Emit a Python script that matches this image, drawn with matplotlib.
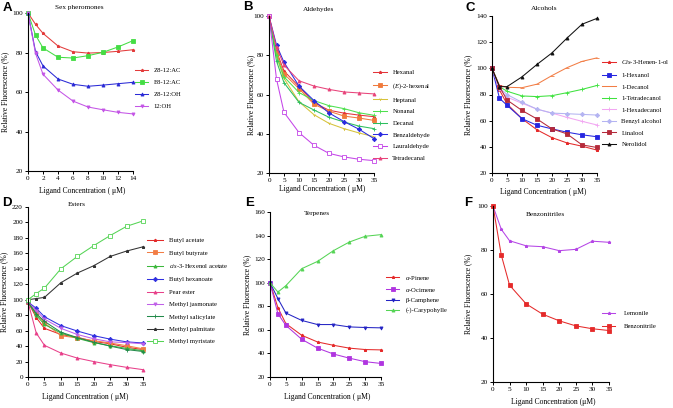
import matplotlib
matplotlib.use("Agg")
import matplotlib.pyplot as plt
from matplotlib.patches import Rectangle

plt.rcParams['font.family'] = ['Liberation Serif', 'DejaVu Serif']
plt.rcParams['mathtext.fontset'] = 'custom'
plt.rcParams['mathtext.rm'] = 'Liberation Serif'
plt.rcParams['mathtext.it'] = 'Liberation Serif:italic'

W, H = 673, 408

# ---- data ----
x_sex = [0, 1, 2, 4, 6, 8, 10, 12, 14]
conc = [0, 2.5, 5, 10, 15, 20, 25, 30, 35]

z8_12_ac = [100, 94.3, 89.7, 83.3, 80.4, 79.7, 80.0, 80.6, 81.4]
e8_12_ac = [100, 88.9, 82.3, 77.6, 77.2, 78.4, 80.1, 82.8, 86.0]
z8_12_oh = [100, 80.5, 73.2, 66.6, 63.9, 62.9, 63.5, 64.2, 64.9]
oh_12 = [100, 79.6, 69.0, 61.0, 55.4, 52.4, 51.0, 49.7, 48.9]

hexanal = [100, 82, 72, 64, 55.8, 52, 50.5, 49.5, 48.7]
hexenal = [100, 81, 70.5, 63, 55, 51.5, 49, 48, 46.8]
heptanal = [100, 79.3, 68.2, 56.3, 49.7, 45.3, 42.6, 40.4, 38.5]
nonanal = [100, 80, 69, 61, 56.9, 54.3, 52.8, 50.7, 49.4]
decanal = [100, 77, 66, 56, 52.1, 48.4, 46, 43.9, 42.6]
benzaldehyde = [100, 85.2, 76.4, 64.3, 56.9, 50.6, 46.2, 42.3, 37.5]
lauraldehyde = [100, 67.9, 50.9, 40.6, 34.1, 30, 28.2, 27, 26.3]
tetradecanal = [100, 84, 75, 67, 64.3, 62.6, 61.3, 60.8, 60.3]

cis3_hexen_ol = [100, 83.4, 72.8, 61.5, 53, 47, 43, 40.5, 37.5]
hexanol = [100, 77.1, 71.8, 61.5, 56.5, 53.7, 51.2, 49.2, 47.7]
decanol = [100, 87, 85.5, 85.2, 87.9, 94.5, 100.5, 105.3, 108]
tetradecanol = [100, 86, 82.5, 78.9, 78.4, 79.1, 81.4, 83.9, 86.9]
hexadecanol = [100, 84, 78, 73.3, 68.8, 65.8, 62.5, 59.5, 56.7]
benzyl_alcohol = [100, 85, 80, 74, 68.8, 65.8, 65.3, 64.8, 64.3]
linalool = [100, 86, 75.8, 67.8, 61.3, 53.7, 49.9, 41.5, 39.5]
nerolidol = [100, 86, 86, 93.5, 103, 111.8, 123.1, 133.7, 138.2]

butyl_acetate = [97, 77, 63, 55, 51.5, 46, 43, 38.5, 35.5]
butyl_butyrate = [97, 83, 70, 53.5, 50.5, 47, 44, 40.5, 36.5]
hexenyl_acetate = [97, 80, 68, 57, 50, 44.5, 40.5, 37, 34]
butyl_hexanoate = [97, 89, 78, 66.5, 59.5, 53.5, 49, 45.5, 44]
pear_ester = [97, 57, 41, 31, 24.5, 20, 16, 12.5, 9.5]
methyl_jasmonate = [97, 86, 75, 63, 55, 49.5, 45.5, 44.5, 43]
methyl_salicylate = [97, 82, 72, 58, 51, 45, 40, 35.5, 33]
methyl_palmitate = [100, 101.5, 103, 122, 134.5, 144, 156, 163, 168.5]
methyl_myristate = [100, 108, 115, 140, 156, 170, 183, 195, 202]

pinene = [100, 78.8, 65.3, 55.4, 49.7, 46.9, 44.5, 43.3, 43]
ocimene = [100, 73.7, 63.8, 52, 44.5, 39.5, 36, 33, 31.5]
camphene = [100, 86.5, 74.3, 68, 64.5, 64.5, 62.5, 62, 61.7]
caryophyllene = [100, 92.1, 97.5, 111.9, 118.1, 127.2, 134.5, 139.4, 140.8]

lemonile = [100, 89.4, 84.2, 81.9, 81.5, 79.7, 80.3, 84, 83.5]
benzonitrile = [100, 77.7, 64, 55.5, 50.8, 47.8, 45.5, 44.2, 43.4]

FS = 5.2     # ticks, titles
LFS = 4.8    # legend entries


def px_axes(fig, left, top, right, bottom):
    """Add axes given pixel box (top-left origin)."""
    return fig.add_axes([left / W, 1 - bottom / H, (right - left) / W, (bottom - top) / H])


def fig_text(fig, x, y, s, **kw):
    fig.text(x / W, 1 - y / H, s, **kw)


def draw_panel(fig, box, x, series, xticks, yticks, legend_at, spacing, hlen=2.1, hpad=0.8):
    """Draw one panel: box is pixel box of the axes, series is list of
    (values, label, color, marker, filled)."""
    ax = px_axes(fig, *box)
    for vals, label, color, marker, filled in series:
        ax.plot(x, vals, color=color, lw=0.75, marker=marker, ms=2.2,
                mfc=color if filled else 'white', mec=color, mew=0.6,
                label=label, clip_on=False)
    ax.set_xlim(xticks[0], xticks[-1])
    ax.set_ylim(yticks[0], yticks[-1])
    ax.set_xticks(xticks)
    ax.set_yticks(yticks)
    for s in ['top', 'right']:
        ax.spines[s].set_visible(False)
    for s in ['left', 'bottom']:
        ax.spines[s].set_linewidth(0.8)
    ax.tick_params(direction='out', length=2.5, width=0.7, labelsize=FS, pad=1.2)
    ax.patch.set_alpha(0)
    lx, ly = legend_at
    ax.legend(loc='upper left', bbox_to_anchor=(lx / W, 1 - ly / H),
              bbox_transform=fig.transFigure, frameon=False, fontsize=LFS,
              handlelength=hlen, handletextpad=hpad, labelspacing=spacing,
              borderpad=0, borderaxespad=0, numpoints=1)
    return ax


fig = plt.figure(figsize=(W / 100, H / 100), dpi=100)

# A - sex pheromones
draw_panel(fig, (28, 13, 133, 171), x_sex, [
    (z8_12_ac, 'Z8-12:AC', '#e33b3b', '*', True),
    (e8_12_ac, 'E8-12:AC', '#44dd44', 's', True),
    (z8_12_oh, 'Z8-12:OH', '#2a2ad6', '^', True),
    (oh_12, '12:OH', '#c455e6', 'v', True),
], list(range(0, 15, 2)), [20, 40, 60, 80, 100], (135, 67.5), 0.95, hlen=2.0)

# B - aldehydes
draw_panel(fig, (269, 16, 374, 173), conc, [
    (hexanal, 'Hexanal', '#e3343a', '*', True),
    (hexenal, r'($\mathit{E}$)-2-hexenal', '#f07a3c', 's', True),
    (heptanal, 'Heptanal', '#d6c23a', '1', True),
    (nonanal, 'Nonanal', '#4ee04e', '+', True),
    (decanal, 'Decanal', '#2cbf5e', '+', True),
    (benzaldehyde, 'Benzaldehyde', '#2a2ae0', 'D', True),
    (lauraldehyde, 'Lauraldehyde', '#c445e8', 's', False),
    (tetradecanal, 'Tetradecanal', '#e8437a', '^', True),
], list(range(0, 36, 5)), [20, 40, 60, 80, 100], (373, 69.5), 0.9)

# C - alcohols
draw_panel(fig, (492, 16, 597, 173), conc, [
    (cis3_hexen_ol, r'$\mathit{Cis}$-3-Henen-1-ol', '#e52a2a', '*', True),
    (hexanol, '1-Hexanol', '#2626e0', 's', True),
    (decanol, '1-Decanol', '#f27d45', '_', True),
    (tetradecanol, '1-Tetradecanol', '#3ee23e', '+', True),
    (hexadecanol, '1-Hexadecanol', '#f2a6f2', '+', True),
    (benzyl_alcohol, 'Benzyl alcohol', '#b4b4f2', 'D', True),
    (linalool, 'Linalool', '#b52a3a', 's', True),
    (nerolidol, 'Nerolidol', '#111111', '^', True),
], list(range(0, 36, 5)), list(range(20, 141, 20)), (602, 58.5), 0.88)

# D - esters
draw_panel(fig, (28, 207, 143, 377), conc, [
    (butyl_acetate, 'Butyl acetate', '#e32a2a', '*', True),
    (butyl_butyrate, 'Butyl butyrate', '#f27d45', 's', True),
    (hexenyl_acetate, r'$\mathit{cis}$-3-Hexenol acetate', '#3cb83c', '^', True),
    (butyl_hexanoate, 'Butyl hexanoate', '#3030e0', 'D', True),
    (pear_ester, 'Pear ester', '#e8408a', '^', True),
    (methyl_jasmonate, 'Methyl jasmonate', '#c060e8', 'v', True),
    (methyl_salicylate, 'Methyl salicylate', '#228a4a', '+', True),
    (methyl_palmitate, 'Methyl palmitate', '#333333', '*', True),
    (methyl_myristate, 'Methyl myristate', '#55d455', 's', False),
], list(range(0, 36, 5)), list(range(0, 221, 20)), (147, 237.5), 1.0, hlen=2.35, hpad=0.9)

# E - terpenes
draw_panel(fig, (270, 212, 381, 377), conc, [
    (pinene, r'$\mathit{α}$-Pinene', '#e52a2a', '*', True),
    (ocimene, r'$\mathit{α}$-Ocimene', '#b035e0', 's', True),
    (camphene, 'β-Camphene', '#2424c4', 'v', True),
    (caryophyllene, '(-)-Carypohyllene', '#55d455', '^', True),
], list(range(0, 36, 5)), list(range(20, 161, 20)), (386, 273.5), 0.6, hlen=2.0, hpad=0.9)

# F - benzonitriles
draw_panel(fig, (493, 206, 609, 382), conc, [
    (lemonile, 'Lemonile', '#b545e6', '*', True),
    (benzonitrile, 'Benzonitrile', '#e52a2a', 's', True),
], list(range(0, 36, 5)), [20, 40, 60, 80, 100], (602, 310.5), 1.15, hlen=2.0, hpad=1.2)

# titles, axis labels, panel letters
titles = [('Sex pheromones', 79, 7), ('Aldehydes', 319, 10), ('Alcohols', 544, 9),
          ('Esters', 77, 204), ('Terpenes', 317, 213), ('Benzonitriles', 545, 215)]
for t, x, y in titles:
    fig_text(fig, x, y, t, fontsize=FS, ha='center', va='center')

ylab = 'Relative Fluorescence (%)'
for x, y in [(5, 92), (251, 95), (468, 95), (4, 292), (247, 295), (468, 294)]:
    fig_text(fig, x, y, ylab, fontsize=FS + 0.3, rotation=90, ha='center', va='center')

xlabs = [('Ligand Concentration ( μM)', 82, 191), ('Ligand Concentration ( μM)', 322, 189),
         ('Ligand Concentration ( μM)', 543, 192), ('Ligand Concentration ( μM)', 85, 397),
         ('Ligand Concentration ( μM)', 327, 397), ('Ligand Concentration (μM)', 553, 402)]
for t, x, y in xlabs:
    fig_text(fig, x, y, t, fontsize=FS + 0.3, ha='center', va='center')

for letter, x, y in [('A', 7, 8), ('B', 248, 7), ('C', 470, 8),
                     ('D', 7, 203), ('E', 250, 203), ('F', 468, 203)]:
    fig_text(fig, x, y, letter, fontsize=9.5, fontweight='bold', ha='center', va='center',
             family='Liberation Sans')

# the original panels are cropped images; mimic the clipped legend labels
fig.patches.append(Rectangle((230 / W, 1 - 275 / H), 11 / W, 30 / H, transform=fig.transFigure,
                             color='white', zorder=5))
fig.patches.append(Rectangle((447 / W, 1 - 320 / H), 16 / W, 25 / H, transform=fig.transFigure,
                             color='white', zorder=5))

fig.savefig('out.png', dpi=100)
